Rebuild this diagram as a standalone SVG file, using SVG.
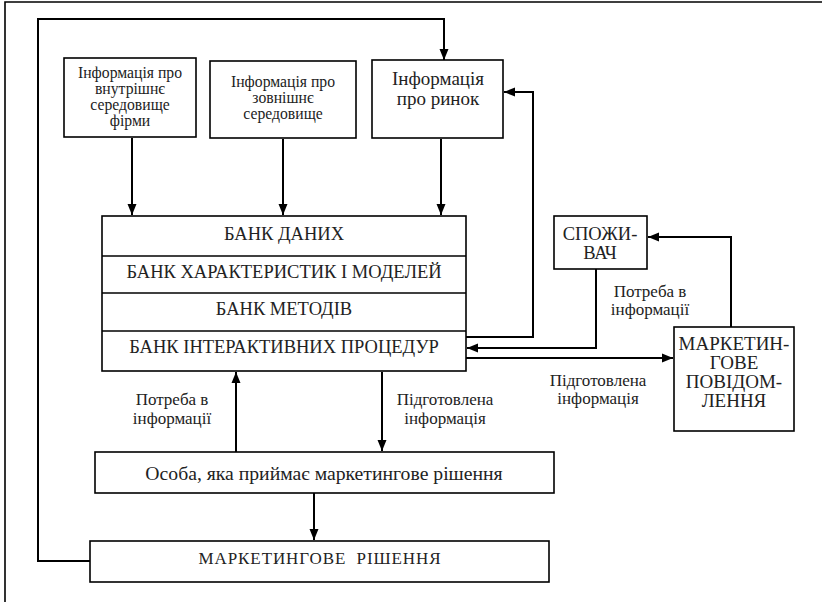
<svg xmlns="http://www.w3.org/2000/svg" width="822" height="602" viewBox="0 0 822 602">
<defs>
<marker id="ah" markerUnits="userSpaceOnUse" markerWidth="12" markerHeight="10" refX="11" refY="5" orient="auto">
<path d="M0,0.5 L11,5 L0,9.5 z" fill="#000"/>
</marker>
<style>
.box{fill:#fff;stroke:#000;stroke-width:1.6}
.ln{fill:none;stroke:#000;stroke-width:2}
.fr{fill:none;stroke:#000;stroke-width:1.6}
text{font-family:"Liberation Serif","Times New Roman",serif;fill:#222;text-anchor:middle}
.s{font-size:15.7px}
.m{font-size:17px}
.b{font-size:18.5px}
.l{font-size:19px}
</style>
</defs>
<rect width="822" height="602" fill="#fff"/>
<path class="fr" d="M5,602 V2 H822"/>

<g id="connectors">
<path class="ln" d="M90,561 H38 V19 H444 V60" marker-end="url(#ah)"/>
<path class="ln" d="M132,138 V215" marker-end="url(#ah)"/>
<path class="ln" d="M283,139 V215" marker-end="url(#ah)"/>
<path class="ln" d="M441,139 V215" marker-end="url(#ah)"/>
<path class="ln" d="M466,337 H533 V92 H504" marker-end="url(#ah)"/>
<path class="ln" d="M596,269 V348 H467" marker-end="url(#ah)"/>
<path class="ln" d="M466,358 H673" marker-end="url(#ah)"/>
<path class="ln" d="M731,327 V237 H648" marker-end="url(#ah)"/>
<path class="ln" d="M236,452 V372" marker-end="url(#ah)"/>
<path class="ln" d="M382,372 V451" marker-end="url(#ah)"/>
<path class="ln" d="M314,493 V540" marker-end="url(#ah)"/>
</g>

<g id="info-internal">
<rect class="box" x="64" y="58" width="132" height="79"/>
<text class="s" x="130" y="78">Інформація про</text>
<text class="s" x="130" y="94">внутрішнє</text>
<text class="s" x="130" y="110">середовище</text>
<text class="s" x="130" y="126">фірми</text>
</g>

<g id="info-external">
<rect class="box" x="210" y="61" width="146" height="77"/>
<text class="s" x="283" y="87">Інформація про</text>
<text class="s" x="283" y="103">зовнішнє</text>
<text class="s" x="283" y="119">середовище</text>
</g>

<g id="info-market">
<rect class="box" x="372" y="60" width="131" height="78"/>
<text class="l" x="438" y="85">Інформація</text>
<text class="l" x="438" y="105">про ринок</text>
</g>

<g id="bank">
<rect class="box" x="102" y="216" width="364" height="155"/>
<line class="fr" x1="102" y1="256" x2="466" y2="256"/>
<line class="fr" x1="102" y1="293" x2="466" y2="293"/>
<line class="fr" x1="102" y1="331" x2="466" y2="331"/>
<text class="b" x="284" y="240">БАНК ДАНИХ</text>
<text class="b" x="284" y="278">БАНК ХАРАКТЕРИСТИК І МОДЕЛЕЙ</text>
<text class="b" x="284" y="315">БАНК МЕТОДІВ</text>
<text class="b" x="284" y="353">БАНК ІНТЕРАКТИВНИХ ПРОЦЕДУР</text>
</g>

<g id="consumer">
<rect class="box" x="554" y="216" width="93" height="53"/>
<text class="b" x="600" y="240">СПОЖИ-</text>
<text class="b" x="600" y="259">ВАЧ</text>
</g>

<g id="message">
<rect class="box" x="674" y="327" width="120" height="104"/>
<text class="l" x="734" y="350">МАРКЕТИН-</text>
<text class="l" x="734" y="369">ГОВЕ</text>
<text class="l" x="734" y="388">ПОВІДОМ-</text>
<text class="l" x="734" y="407">ЛЕННЯ</text>
</g>

<g id="person">
<rect class="box" x="95" y="452" width="459" height="41"/>
<text x="324" y="480" font-size="19.7">Особа, яка приймає маркетингове рішення</text>
</g>

<g id="decision">
<rect class="box" x="90" y="541" width="459" height="41"/>
<text class="b" x="320" y="564" font-size="17" letter-spacing="0.9" xml:space="preserve" style="font-size:17px">МАРКЕТИНГОВЕ  РІШЕННЯ</text>
</g>

<g id="labels">
<text class="m" x="650" y="297">Потреба в</text>
<text class="m" x="650" y="315">інформації</text>
<text class="m" x="598" y="386">Підготовлена</text>
<text class="m" x="598" y="404">інформація</text>
<text class="m" x="172" y="405">Потреба в</text>
<text class="m" x="172" y="424">інформації</text>
<text class="m" x="445" y="405">Підготовлена</text>
<text class="m" x="445" y="424">інформація</text>
</g>
</svg>
